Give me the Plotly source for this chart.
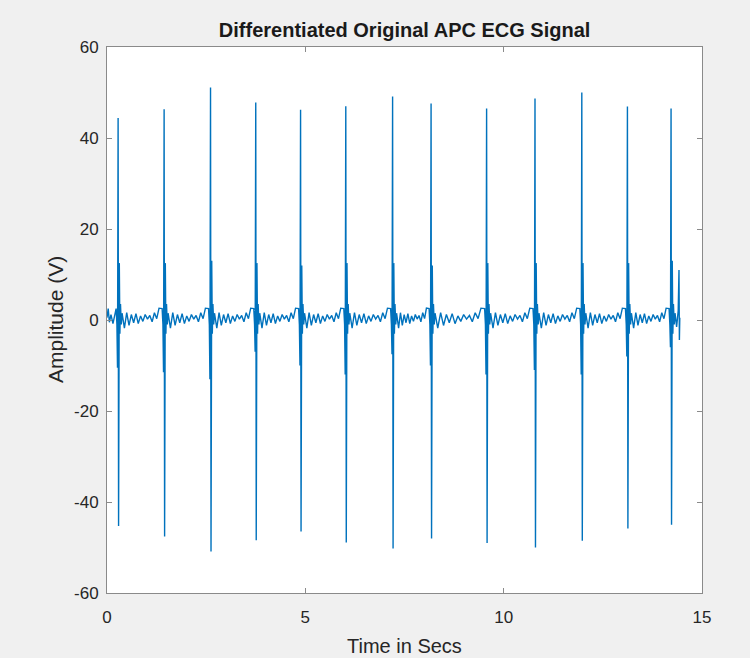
import numpy as np
import plotly.graph_objects as go

# R-wave times (s) and the extreme values of the differentiated QRS complex
beat_times = [0.28, 1.44, 2.61, 3.75, 4.88, 6.02, 7.20, 8.17, 9.57, 10.79, 11.97, 13.12, 14.22]
r_up = [44.4, 46.3, 51.1, 47.8, 46.2, 47.0, 49.1, 47.6, 46.5, 48.7, 50.0, 46.9, 46.5]
r_down = [-45.3, -47.6, -50.9, -48.4, -46.5, -48.9, -50.2, -48.0, -49.0, -50.0, -48.5, -45.8, -45.0]
q_dip = [-10.5, -11.5, -13.0, -7.0, -10.0, -12.0, -7.5, -10.0, -12.0, -11.0, -12.0, -8.0, -6.0]
s_rise = [12.5, 12.5, 13.0, 12.5, 12.0, 12.5, 12.5, 12.0, 12.5, 12.5, 12.5, 12.5, 13.0]

# shape of one complex: time offsets (s) and values; string keys are filled per beat
qrs_offsets = [-0.05, -0.03, -0.015, 0.0, 0.012, 0.03, 0.045, 0.06, 0.08, 0.10]
qrs_values = [2.5, -1.0, "q", "up", "down", "s", -3.0, 3.5, -1.0, 1.5]

# low-level ripple between complexes (fraction of the interval, value)
gap_frac = [0.04, 0.10, 0.16, 0.22, 0.28, 0.34, 0.40, 0.46, 0.52, 0.58, 0.64, 0.70, 0.76, 0.82, 0.88, 0.94]
gap_vals = [-1.8, 1.6, -1.2, 1.2, -0.6, 1.4, -0.8, 0.9, -0.3, 1.2, 0.2, 1.0, -0.4, 1.6, 0.3, 2.6]

# start and end of the record
lead_t = [0.0, 0.03, 0.06, 0.10, 0.15, 0.20]
lead_v = [0.5, 2.5, -0.5, 1.2, -0.8, 1.0]
tail_t = [14.36, 14.40, 14.42, 14.43, 14.44]
tail_v = [-1.5, 2.0, 11.0, -4.4, 0.5]

# axis ticks
x_ticks = [0, 5, 10, 15]
y_ticks = [-60, -40, -20, 0, 20, 40, 60]

t, v = list(lead_t), list(lead_v)
for i, tb in enumerate(beat_times):
    slots = {"q": q_dip[i], "up": r_up[i], "down": r_down[i], "s": s_rise[i]}
    for off, val in zip(qrs_offsets, qrs_values):
        t.append(tb + off)
        v.append(slots[val] if isinstance(val, str) else val)
    if i + 1 < len(beat_times):
        a = tb + qrs_offsets[-1] + 0.02
        b = beat_times[i + 1] + qrs_offsets[0] - 0.02
        for f, gv in zip(gap_frac, gap_vals):
            t.append(a + f * (b - a))
            v.append(gv)
t += tail_t
v += tail_v

fig = go.Figure(go.Scatter(x=t, y=v, mode="lines",
                           line=dict(color="#0072BD", width=1.4),
                           showlegend=False, hoverinfo="skip"))

FONT = "Liberation Sans, Arial, sans-serif"
axis_common = dict(showline=True, linecolor="#8a8a8a", linewidth=1, mirror="ticks",
                   ticks="inside", ticklen=5, tickcolor="#8a8a8a", showgrid=False,
                   zeroline=False,
                   tickfont=dict(family=FONT, size=17, color="#262626"))

fig.update_xaxes(range=[0, 15], tickvals=x_ticks, ticktext=[str(k) for k in x_ticks],
                 ticklabelstandoff=9, **axis_common)
fig.update_yaxes(range=[-60, 60], tickvals=y_ticks, ticktext=[str(k) for k in y_ticks],
                 ticklabelstandoff=4, **axis_common)

fig.update_layout(
    width=750, height=658,
    margin=dict(l=107, r=48, t=47, b=65),
    paper_bgcolor="#f0f0f0", plot_bgcolor="#ffffff",
    title=dict(text="<b>Differentiated Original APC ECG Signal</b>", x=0.5395, xanchor="center",
               y=1 - 30 / 658, yanchor="middle",
               font=dict(family=FONT, size=20, color="#1a1a1a")),
    annotations=[
        dict(text="Time in Secs", xref="paper", yref="paper", x=0.5, y=0, yshift=-53,
             xanchor="center", yanchor="middle", showarrow=False,
             font=dict(family=FONT, size=20, color="#262626")),
        dict(text="Amplitude (V)", xref="paper", yref="paper", x=0, y=0.5, xshift=-52,
             textangle=-90, xanchor="center", yanchor="middle", showarrow=False,
             font=dict(family=FONT, size=21, color="#262626")),
    ],
)

fig.write_html("out.html")
